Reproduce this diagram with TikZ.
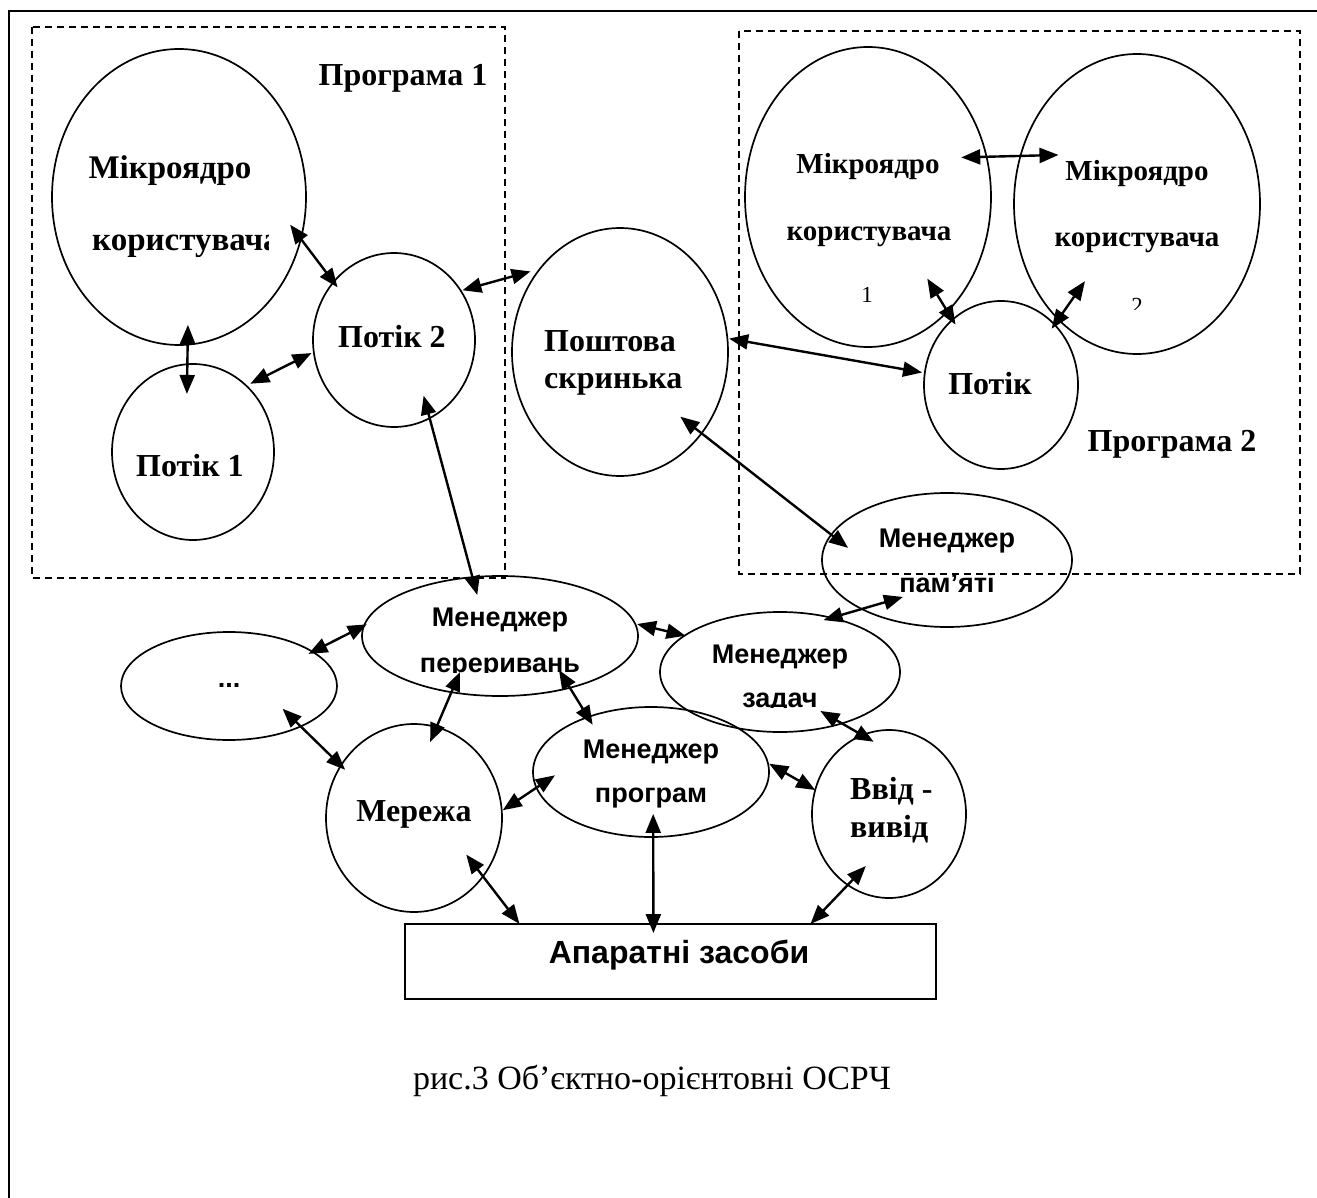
\documentclass[tikz,border=0pt]{standalone}
\usepackage{fontspec}
\setmainfont{Liberation Serif}
\setsansfont{Liberation Sans}
\usetikzlibrary{shapes.geometric,arrows.meta,calc}
\tikzset{
  ell/.style={ellipse, draw, line width=1.7pt, inner sep=0pt, outer sep=0pt},
  hwbox/.style={rectangle, draw, line width=1.7pt, inner sep=0pt, outer sep=0pt},
  sbt/.style={font=\fontsize{32}{32}\selectfont\bfseries, anchor=base, inner sep=0pt},
  sbl/.style={font=\fontsize{33}{33}\selectfont\bfseries, anchor=base, inner sep=0pt},
  sbs/.style={font=\fontsize{29}{29}\selectfont\bfseries, anchor=base, inner sep=0pt},
  sst/.style={font=\sffamily\fontsize{27}{27}\selectfont\bfseries, anchor=base, inner sep=0pt},
  numt/.style={font=\fontsize{23}{23}\selectfont, anchor=base, inner sep=0pt},
  arr/.style={line width=2.4pt, {Triangle[length=19pt,width=15pt]}-{Triangle[length=19pt,width=15pt]}},
  grp/.style={dash pattern=on 7pt off 5pt, line width=1.4pt},
  frm/.style={line width=2pt},
}
\begin{document}
\begin{tikzpicture}[x=1pt,y=-1pt]
\useasboundingbox (0,0) rectangle (1317,1198);
% outer frame (top and left)
\draw[frm] (9,1198) -- (9,11) -- (1317,11);
% group boxes
\draw[grp] (32,27) rectangle (505,578);
\draw[grp] (739,31) rectangle (1300,574);

% ellipses
\node[ell, minimum width=254pt, minimum height=296pt] (mkL) at (179,197) {};
\node[ell, minimum width=162pt, minimum height=176pt] (p1) at (193,452) {};
\node[ell, minimum width=162pt, minimum height=174pt] (p2) at (394,340) {};
\node[ell, minimum width=216pt, minimum height=248pt] (mail) at (620,352) {};
\node[ell, minimum width=246pt, minimum height=300pt] (mk1) at (868,197) {};
\node[ell, minimum width=246pt, minimum height=300pt] (mk2) at (1137,204) {};
\node[ell, minimum width=154pt, minimum height=168pt] (pR) at (1001,385) {};
\node[ell, minimum width=250pt, minimum height=134pt] (mem) at (947,560) {};
\node[ell, minimum width=276pt, minimum height=120pt] (intr) at (500,636) {};
\node[ell, minimum width=216pt, minimum height=108pt] (dots) at (229,686) {};
\node[ell, minimum width=176pt, minimum height=188pt] (net) at (414,818) {};
\node[ell, minimum width=236pt, minimum height=130pt] (prog) at (651,772) {};
\node[ell, minimum width=240pt, minimum height=120pt] (task) at (780,672) {};
\node[ell, minimum width=154pt, minimum height=168pt] (io) at (889,814) {};
\node[hwbox, minimum width=531pt, minimum height=75pt] (hw) at (670.5,961.5) {};

% labels
\node[sbt] (lprog1) at (403,86) {Програма 1};
\node[sbl] (lmkL1) at (170,179) {Мікроядро};
\begin{scope}
\clip (0,0) rectangle (268,1198);
\node[sbl, anchor=base west] (lmkL2) at (92,251) {користувача};
\end{scope}
\node[sbt] (lp2) at (392,347) {Потік 2};
\node[sbt] (lp1) at (190,476) {Потік 1};
\node[sbt, anchor=base west] (lmail1) at (544,351) {Поштова};
\node[sbt, anchor=base west] (lmail2) at (544,388) {скринька};
\node[sbs] (lmk1a) at (868,174) {Мікроядро};
\node[sbs] (lmk1b) at (869,241) {користувача};
\node[numt] (lmk1c) at (867,303) {1};
\node[sbs] (lmk2a) at (1137,181) {Мікроядро};
\node[sbs] (lmk2b) at (1137,247) {користувача};
\begin{scope}
\clip (1100,250) rectangle (1180,310);
\node[numt] (lmk2c) at (1137,313) {2};
\end{scope}
\node[sbt] (lpR) at (990,394) {Потік};
\node[sbt] (lprog2) at (1172,451) {Програма 2};
\node[sst] (lmem1) at (947,547) {Менеджер};
\begin{scope}
\clip (850,575) rectangle (1050,620);
\node[sst] (lmem2) at (947,592) {пам’яті};
\end{scope}
\node[sst] (lintr1) at (500,626) {Менеджер};
\begin{scope}
\clip (400,640) rectangle (600,672);
\node[sst] (lintr2) at (500,672) {переривань};
\end{scope}
\node[sst] (ldots) at (229,687) {...};
\node[sst] (ltask1) at (780,663) {Менеджер};
\begin{scope}
\clip (720,680) rectangle (840,707);
\node[sst] (ltask2) at (780,707) {задач};
\end{scope}
\node[sst] (lprg1) at (651,758) {Менеджер};
\node[sst] (lprg2) at (651,802) {програм};
\node[sbt] (lnet) at (414,821) {Мережа};
\node[sbt, anchor=base west] (lio1) at (850,799) {Ввід -};
\node[sbt, anchor=base west] (lio2) at (850,837) {вивід};
\node[font=\sffamily\fontsize{32}{32}\selectfont\bfseries, anchor=base, inner sep=0pt] (lhw) at (679,963) {Апаратні засоби};
\node[font=\fontsize{34}{34}\selectfont, anchor=base, inner sep=0pt] (lcap) at (652,1089) {рис.3 Об’єктно-орієнтовні ОСРЧ};

% connectors
\draw[arr] ($(mkL.center)!0.895!(mkL.-14.6)$) -- ($(p2.center)!0.923!(p2.137.6)$);
\draw[arr] ($(mkL.center)!0.867!(mkL.-86)$) -- ($(p1.center)!0.664!(p1.96.9)$);
\draw[arr] ($(p1.center)!1.05!(p1.50.4)$) -- ($(p2.center)!1.03!(p2.189.7)$);
\draw[arr] ($(p2.center)!1.02!(p2.36.9)$) -- ($(mail.center)!1.053!(mail.138.4)$);
\draw[arr] ($(p2.center)!0.737!(p2.-62.6)$) -- ($(intr.center)!0.704!(intr.119.3)$);
\draw[arr] ($(mail.center)!1.016!(mail.7.3)$) -- ($(pR.center)!1.036!(pR.171.4)$);
\draw[arr] ($(mk1.center)!0.803!(mk1.23.8)$) -- ($(mk2.center)!0.717!(mk2.148.7)$);
\draw[arr] ($(mk1.center)!0.727!(mk1.-54.3)$) -- ($(pR.center)!0.931!(pR.127.5)$);
\draw[arr] ($(mk2.center)!0.666!(mk2.236.8)$) -- ($(pR.center)!0.939!(pR.48.7)$);
\draw[arr] ($(mail.center)!0.764!(mail.-47.3)$) -- ($(mem.center)!0.812!(mem.173.1)$);
\draw[arr] ($(mem.center)!0.655!(mem.220)$) -- ($(task.center)!0.9375!(task.50.4)$);
\draw[arr] ($(intr.center)!1.013!(intr.5.9)$) -- ($(task.center)!0.993!(task.159.2)$);
\draw[arr] ($(dots.center)!0.946!(dots.22.9)$) -- ($(intr.center)!0.985!(intr.175.7)$);
\draw[arr] ($(dots.center)!0.651!(dots.-23.5)$) -- ($(net.center)!0.935!(net.145.2)$);
\draw[arr] ($(intr.center)!0.666!(intr.222)$) -- ($(net.center)!0.829!(net.78.1)$);
\draw[arr] ($(intr.center)!0.710!(intr.-30)$) -- ($(prog.center)!0.879!(prog.141.5)$);
\draw[arr] ($(prog.center)!0.816!(prog.182.4)$) -- ($(net.center)!1.012!(net.5.1)$);
\draw[arr] ($(task.center)!0.731!(task.-44.3)$) -- ($(io.center)!0.883!(io.102.5)$);
\draw[arr] ($(prog.center)!1.01!(prog.4.4)$) -- ($(io.center)!1.0!(io.162)$);
\draw[arr] ($(prog.center)!0.645!(prog.-87.3)$) -- ($(hw.center)!0.759!(hw.121.6)$);
\draw[arr] ($(net.center)!0.710!(net.-35.4)$) -- ($(hw.center)!1.004!(hw.166.6)$);
\draw[arr] ($(io.center)!0.688!(io.246.1)$) -- ($(hw.center)!1.0!(hw.15)$);
\end{tikzpicture}
\end{document}
